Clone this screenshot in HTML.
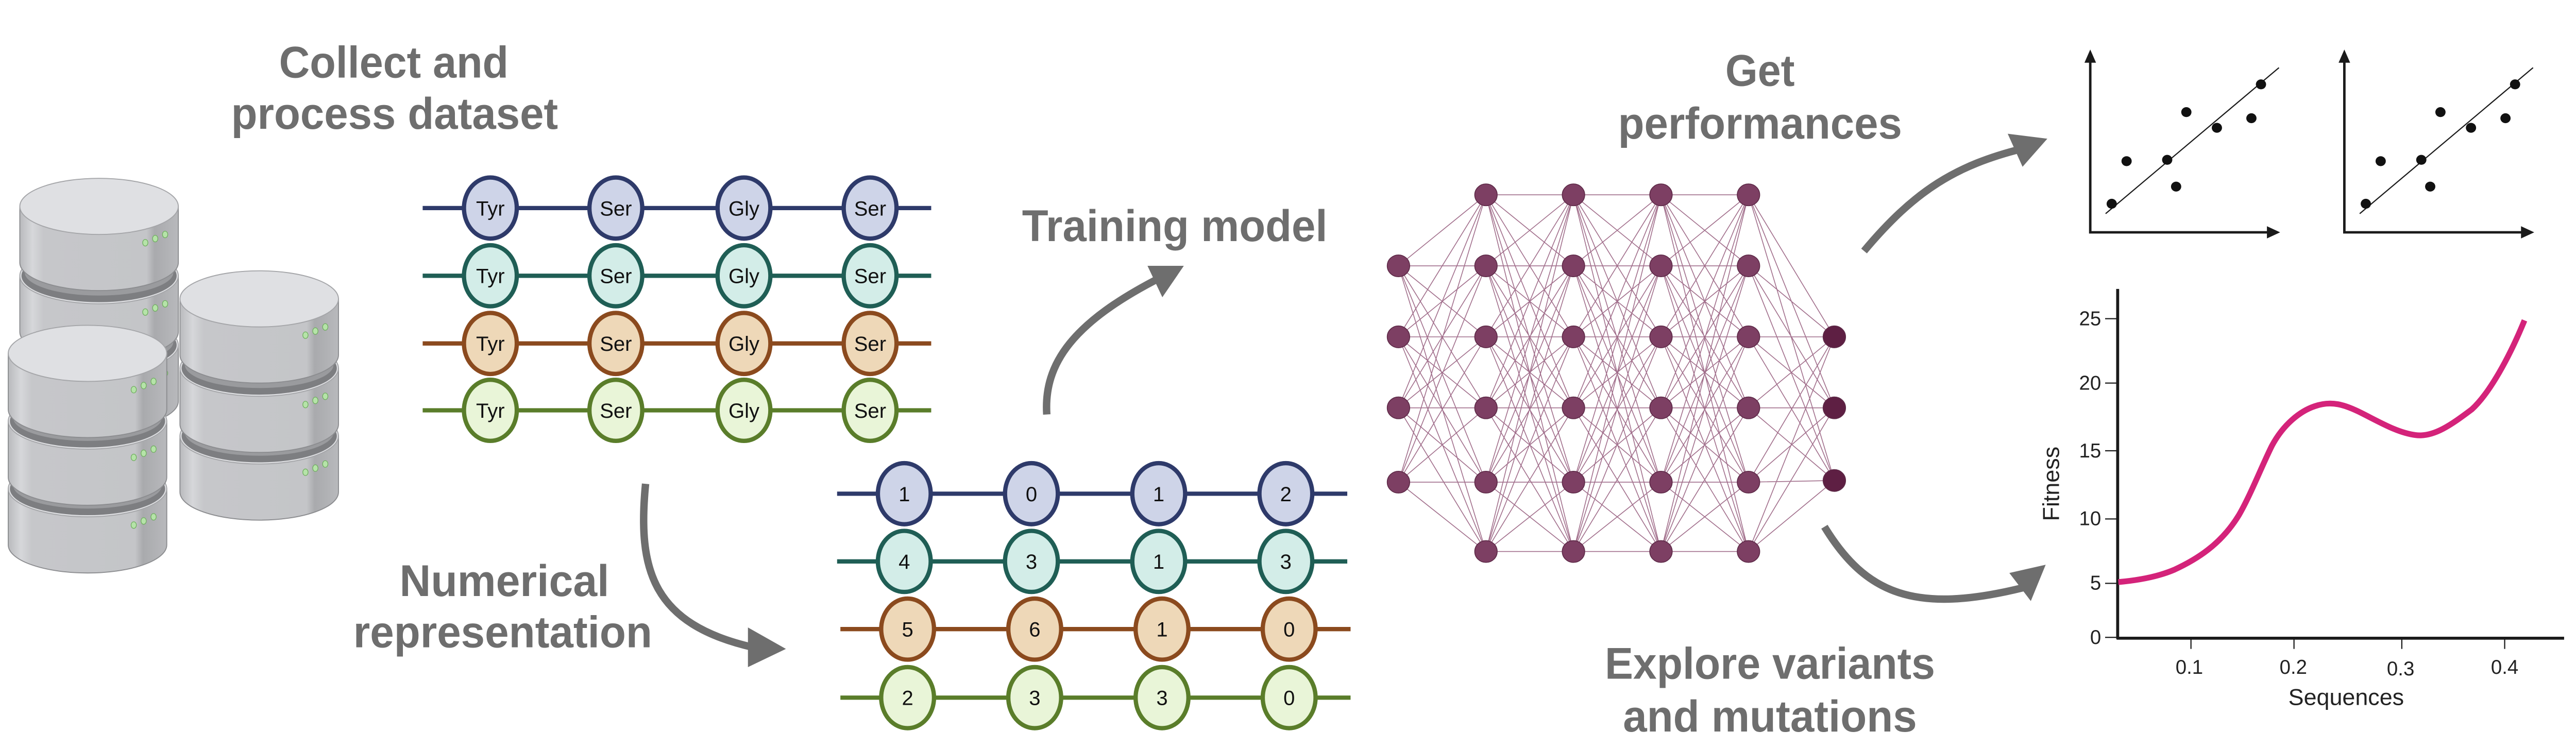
<!DOCTYPE html>
<html><head><meta charset="utf-8"><style>
html,body{margin:0;padding:0;background:#fff;}
svg{display:block;}
.t{font-family:"Liberation Sans",sans-serif;font-weight:bold;fill:#6e6e6e;font-size:27px;}
.n{font-family:"Liberation Sans",sans-serif;font-size:12.5px;fill:#111;text-anchor:middle;}
.ax{font-family:"Liberation Sans",sans-serif;font-size:12px;fill:#222;}
</style></head><body>
<svg id="s" width="5025" height="1452" viewBox="0 0 1568 453" preserveAspectRatio="none" xmlns="http://www.w3.org/2000/svg">
<defs>
<linearGradient id="cyl" x1="0" x2="1" y1="0" y2="0">
<stop offset="0" stop-color="#b9babd"/><stop offset="0.08" stop-color="#d6d7da"/><stop offset="0.15" stop-color="#c6c7ca"/><stop offset="0.8" stop-color="#c4c5c8"/><stop offset="0.85" stop-color="#a9aaad"/><stop offset="1" stop-color="#b8b9bc"/>
</linearGradient>
</defs>
<g id="db"></g>

<text class="t" x="169" y="47" textLength="139" lengthAdjust="spacingAndGlyphs">Collect and</text>
<text class="t" x="140" y="78" textLength="198" lengthAdjust="spacingAndGlyphs">process dataset</text>
<text class="t" x="242" y="361" textLength="127" lengthAdjust="spacingAndGlyphs">Numerical</text>
<text class="t" x="214" y="392" textLength="181" lengthAdjust="spacingAndGlyphs">representation</text>
<text class="t" x="619" y="146" textLength="185" lengthAdjust="spacingAndGlyphs">Training model</text>
<text class="t" x="1045" y="52" textLength="42" lengthAdjust="spacingAndGlyphs">Get</text>
<text class="t" x="980" y="84" textLength="172" lengthAdjust="spacingAndGlyphs">performances</text>
<text class="t" x="972" y="411" textLength="200" lengthAdjust="spacingAndGlyphs">Explore variants</text>
<text class="t" x="983" y="443" textLength="178" lengthAdjust="spacingAndGlyphs">and mutations</text>

<g id="seq"></g>
<g id="nn"></g>

<g fill="none" stroke="#6e6e6e" stroke-width="4.5">
<path d="M391,293 C386,345 395,378 456,392"/>
<path d="M634,251 C632,220 650,195 703,168"/>
<path d="M1129,152 C1160,115 1185,100 1225,90"/>
<path d="M1105,319 C1130,360 1160,372 1225,356"/>
</g>
<g fill="#6e6e6e">
<polygon points="453,380 476,393 453,404"/>
<polygon points="695,161 717,161 704,180"/>
<polygon points="1216,81 1240,84 1225,101"/>
<polygon points="1217,347 1239,342 1230,364"/>
</g>

<g id="sc"></g>

<g stroke="#1a1a1a" fill="none">
<line x1="1282.6" y1="175" x2="1282.6" y2="387" stroke-width="1.8"/>
<line x1="1282" y1="386.5" x2="1553" y2="386.5" stroke-width="1.8"/>
<g stroke-width="0.7">
<line x1="1275" y1="193" x2="1282" y2="193"/><line x1="1275" y1="232" x2="1282" y2="232"/>
<line x1="1275" y1="273" x2="1282" y2="273"/><line x1="1275" y1="314.3" x2="1282" y2="314.3"/>
<line x1="1275" y1="353.3" x2="1282" y2="353.3"/><line x1="1275" y1="386" x2="1282" y2="386"/>
<line x1="1327" y1="387" x2="1327" y2="393"/><line x1="1389.4" y1="387" x2="1389.4" y2="393"/>
<line x1="1454.7" y1="387" x2="1454.7" y2="393"/><line x1="1517" y1="387" x2="1517" y2="393"/>
</g></g>
<g class="ax" text-anchor="end">
<text x="1272.6" y="197">25</text><text x="1272.6" y="236">20</text><text x="1272.6" y="277">15</text>
<text x="1272.6" y="318">10</text><text x="1272.6" y="357">5</text><text x="1272.6" y="390">0</text>
</g>
<g class="ax" text-anchor="middle">
<text x="1326" y="408">0.1</text><text x="1389" y="408">0.2</text><text x="1454" y="409">0.3</text><text x="1517" y="408">0.4</text>
<text x="1421" y="427" font-size="14">Sequences</text>
<text transform="translate(1247,293) rotate(-90)" font-size="14">Fitness</text>
</g>
<path fill="none" stroke="#d4237a" stroke-width="3.5" d="M1283,352.5 C1300,351 1310,348 1317,345 C1330,339 1345,330 1356,312 C1363,300 1370,282 1376,270 C1383,257 1393,249 1402,246 C1412,242.5 1420,245 1430,250 C1442,256 1452,262 1463,263.5 C1474,265 1485,257 1497,248 C1508,238 1520,216 1529,194"/>
</svg>
<script>
(function(){
var NS="http://www.w3.org/2000/svg";
function el(p,t,a,txt){var e=document.createElementNS(NS,t);for(var k in a)e.setAttribute(k,a[k]);if(txt!=null)e.textContent=txt;document.getElementById(p).appendChild(e);return e;}
function cyl(cx,cy){var rx=48,ry=17,h=34;
 el("db","path",{d:"M"+(cx-rx)+","+cy+" L"+(cx-rx)+","+(cy+h)+" A"+rx+","+ry+" 0 0 0 "+(cx+rx)+","+(cy+h)+" L"+(cx+rx)+","+cy+" Z",fill:"url(#cyl)",stroke:"#8c8d90","stroke-width":"0.6"});
 el("db","ellipse",{cx:cx,cy:cy,rx:rx,ry:ry,fill:"#dfe0e3",stroke:"#a5a6a9","stroke-width":"0.6"});
 for(var i=0;i<3;i++){el("db","ellipse",{cx:cx+28+i*6,cy:cy+22-i*2.5,rx:1.6,ry:2,fill:"#b5e3a8",stroke:"#6fae5f","stroke-width":"0.4"});}
}
function band(cx,cy){el("db","ellipse",{cx:cx,cy:cy,rx:47,ry:16,fill:"#7d7e81"});el("db","ellipse",{cx:cx,cy:cy-2,rx:45,ry:14,fill:"#9a9b9e"});}
function stack2(cx,ys){for(var i=ys.length-1;i>=0;i--){ if(i<ys.length-1) band(cx,ys[i+1]);cyl(cx,ys[i]);}}
stack2(60,[125,167,209]);
stack2(53,[214,255,296]);
stack2(157,[181,223,264]);
var cols=[["#2e3a6a","#ced4e8"],["#1f5e55","#d3ede8"],["#8b4a1e","#eed8b8"],["#5a7d2a","#e9f5d8"]];
var aa=["Tyr","Ser","Gly","Ser"],xs=[297,373,450.6,527],ys=[126,167,208,248.5];
for(var r=0;r<4;r++){el("seq","line",{x1:256,x2:564,y1:ys[r],y2:ys[r],stroke:cols[r][0],"stroke-width":"2.6"});
 for(var c=0;c<4;c++){el("seq","ellipse",{cx:xs[c],cy:ys[r],rx:16,ry:18.5,fill:cols[r][1],stroke:cols[r][0],"stroke-width":"2.6"});el("seq","text",{x:xs[c],y:ys[r]+4.5,"class":"n"},aa[c]);}}
var nums=[[1,0,1,2],[4,3,1,3],[5,6,1,0],[2,3,3,0]],nx=[547.7,624.7,701.8,778.8],ny=[299,340,381,422.5];
for(var r=0;r<4;r++){var d=r>1?2:0;el("seq","line",{x1:507+d,x2:816+d,y1:ny[r],y2:ny[r],stroke:cols[r][0],"stroke-width":"2.6"});
 for(var c=0;c<4;c++){el("seq","ellipse",{cx:nx[c]+d,cy:ny[r],rx:16,ry:18.5,fill:cols[r][1],stroke:cols[r][0],"stroke-width":"2.6"});el("seq","text",{x:nx[c]+d,y:ny[r]+4.5,"class":"n"},nums[r][c]);}}
var L=[[847,[161,204,247,292]],[900,[118,161,204,247,292,334]],[953,[118,161,204,247,292,334]],[1006,[118,161,204,247,292,334]],[1059,[118,161,204,247,292,334]],[1111,[204,247,291]]];
var d="";
for(var i=0;i<L.length-1;i++){for(var a=0;a<L[i][1].length;a++)for(var b=0;b<L[i+1][1].length;b++)d+="M"+L[i][0]+","+L[i][1][a]+"L"+L[i+1][0]+","+L[i+1][1][b];}
el("nn","path",{d:d,stroke:"#8a4a6e","stroke-width":"0.5",fill:"none",opacity:"0.8"});
for(var i=0;i<L.length;i++)for(var a=0;a<L[i][1].length;a++)el("nn","ellipse",{cx:L[i][0],cy:L[i][1][a],rx:6.8,ry:6.6,fill:i==5?"#5e1f43":"#7d3f63",stroke:"#5e2a48","stroke-width":"0.5"});
var pts=[[1279,123.4],[1288,97.6],[1312.6,96.8],[1318,113],[1324.2,67.9],[1342.7,77.4],[1363.6,71.6],[1369.4,51.1]];
for(var k=0;k<2;k++){var o=k*153.9;
 el("sc","path",{d:"M"+(1266+o)+",34 L"+(1266+o)+",140.7 L"+(1376+o)+",140.7",stroke:"#1a1a1a","stroke-width":"1.5",fill:"none"});
 el("sc","polygon",{points:(1262.5+o)+",38 "+(1266+o)+",30 "+(1269.5+o)+",38",fill:"#1a1a1a"});
 el("sc","polygon",{points:(1373+o)+",137 "+(1381+o)+",140.7 "+(1373+o)+",144.4",fill:"#1a1a1a"});
 el("sc","line",{x1:1275.3+o,y1:129.4,x2:1380.3+o,y2:41,stroke:"#1a1a1a","stroke-width":"0.7"});
 for(var p=0;p<pts.length;p++)el("sc","ellipse",{cx:pts[p][0]+o,cy:pts[p][1],rx:3.1,ry:3,fill:"#111"});}
})();
</script>
</body></html>
